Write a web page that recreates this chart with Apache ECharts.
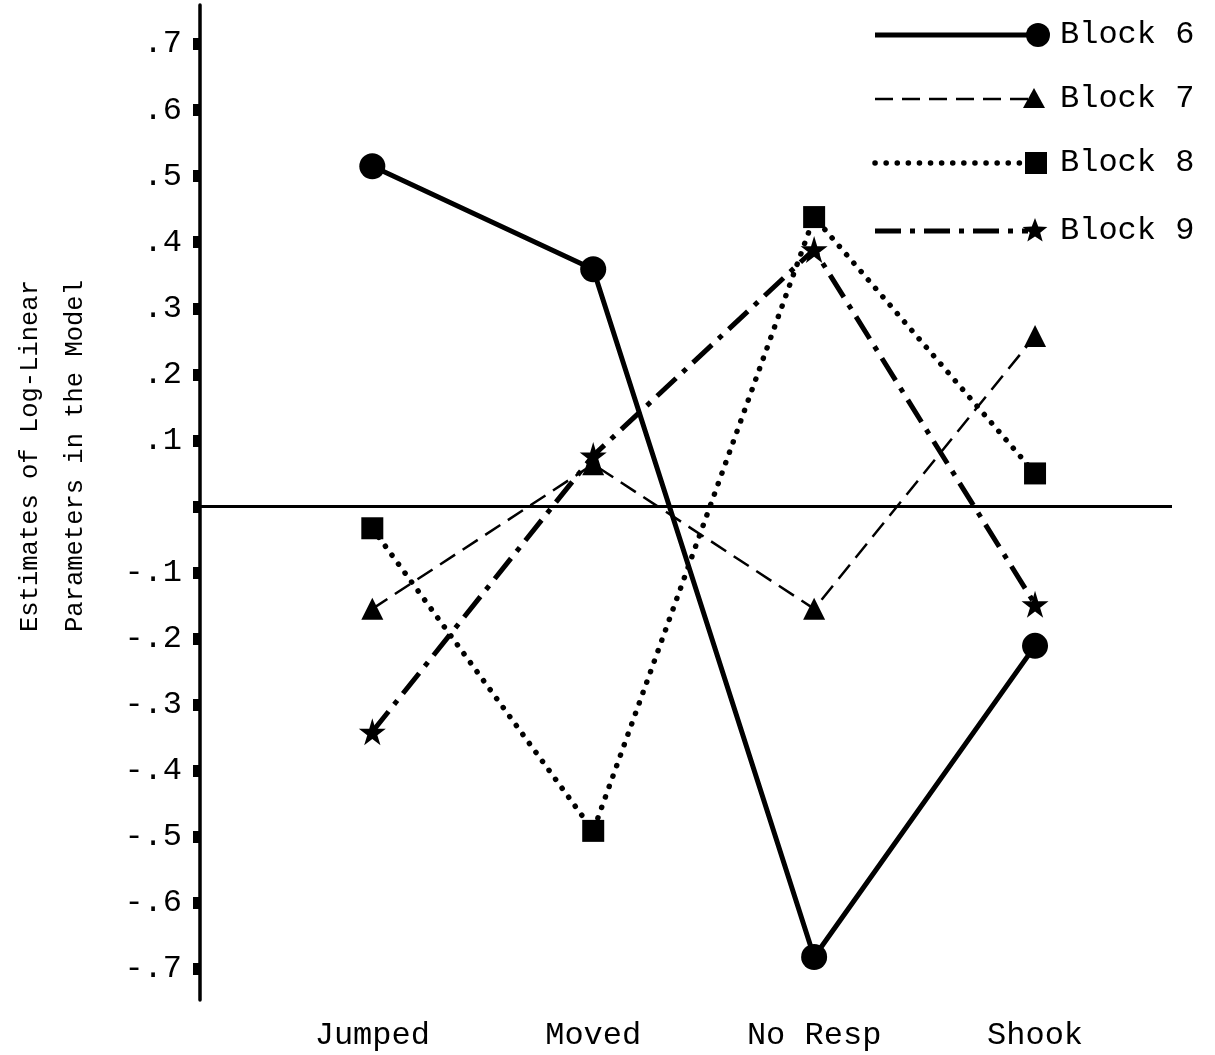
<!DOCTYPE html>
<html><head><meta charset="utf-8">
<script src="https://cdn.jsdelivr.net/npm/echarts@6/dist/echarts.min.js"></script>
<style>html,body{margin:0;padding:0;background:#fff}#c{width:1215px;height:1055px}</style>
</head><body><div id="c"></div>
<script>
const categories = ["Jumped", "Moved", "No Resp", "Shook"];
const block6 = [0.515, 0.359, -0.682, -0.211];
const block7 = [-0.155, 0.064, -0.155, 0.258];
const block8 = [-0.033, -0.491, 0.438, 0.050];
const block9 = [-0.341, 0.077, 0.389, -0.148];
const seriesNames = ["Block 6", "Block 7", "Block 8", "Block 9"];
const yTickValues = [0.7, 0.6, 0.5, 0.4, 0.3, 0.2, 0.1, 0, -0.1, -0.2, -0.3, -0.4, -0.5, -0.6, -0.7];
const yTickLabels = [".7", ".6", ".5", ".4", ".3", ".2", ".1", "", "-.1", "-.2", "-.3", "-.4", "-.5", "-.6", "-.7"];
const yTitle = ["Estimates of Log-Linear", "Parameters in the Model"];

const FONT = "Liberation Mono";
const STAR = "path://M50,0 L61,35 L98,35 L68,57 L79,91 L50,70 L21,91 L32,57 L2,35 L39,35 Z";
const xPos = categories.map((c, i) => i + 1);
const toData = arr => arr.map((v, i) => [xPos[i], v]);

const styles = [
  {symbol: 'circle', size: 26, line: {width: 5, type: 'solid'}},
  {symbol: 'triangle', size: 22, line: {width: 2.5, type: [18, 9]}},
  {symbol: 'rect', size: 22, line: {width: 5.5, type: [0.1, 11], cap: 'round'}},
  {symbol: STAR, size: 27, line: {width: 5, type: [26, 9, 5, 9]}}
];
const allData = [block6, block7, block8, block9];

const series = allData.map((d, i) => ({
  name: seriesNames[i], type: 'line', data: toData(d),
  symbol: styles[i].symbol, symbolSize: styles[i].size,
  showAllSymbol: true,
  itemStyle: {color: '#000'},
  lineStyle: Object.assign({color: '#000'}, styles[i].line),
  z: 10 - i,
  markLine: i === 0 ? {symbol: 'none', silent: true, label: {show: false},
    lineStyle: {color: '#000', width: 3, type: 'solid'}, data: [{yAxis: 0}]} : undefined
}));

function starPoints(cx, cy, r, r0) {
  const pts = [];
  for (let k = 0; k < 10; k++) {
    const a = -Math.PI / 2 + k * Math.PI / 5;
    const rr = k % 2 === 0 ? r : r0;
    pts.push([cx + rr * Math.cos(a), cy + rr * Math.sin(a)]);
  }
  return pts;
}
const legendY = [35, 99, 163, 231];
const graphic = [];
legendY.forEach((y, i) => {
  const ls = styles[i].line;
  graphic.push({type: 'line', shape: {x1: 875, y1: y, x2: 1028, y2: y},
    style: {stroke: '#000', lineWidth: ls.width, lineDash: ls.type === 'solid' ? null : ls.type, lineCap: ls.cap || 'butt'}});
  let sym;
  if (i === 0) sym = {type: 'circle', shape: {cx: 1038, cy: y, r: 12}, style: {fill: '#000'}};
  if (i === 1) sym = {type: 'polygon', shape: {points: [[1034, y - 11], [1045, y + 9], [1023, y + 9]]}, style: {fill: '#000'}};
  if (i === 2) sym = {type: 'rect', shape: {x: 1025, y: y - 11, width: 22, height: 22}, style: {fill: '#000'}};
  if (i === 3) sym = {type: 'polygon', shape: {points: starPoints(1035, y, 13, 5.5)}, style: {fill: '#000'}};
  graphic.push(sym);
  graphic.push({type: 'text', x: 1060, y: y, style: {text: seriesNames[i], font: '32px ' + FONT, fill: '#000', textVerticalAlign: 'middle'}});
});
graphic.push({type: 'text', x: 30, y: 456, rotation: Math.PI / 2,
  style: {text: yTitle[0], font: '25.5px ' + FONT, fill: '#000', textAlign: 'center', textVerticalAlign: 'middle'}});
graphic.push({type: 'text', x: 75, y: 456, rotation: Math.PI / 2,
  style: {text: yTitle[1], font: '25.5px ' + FONT, fill: '#000', textAlign: 'center', textVerticalAlign: 'middle'}});

const chart = echarts.init(document.getElementById('c'), null, {renderer: 'canvas'});
chart.setOption({
  backgroundColor: '#fff',
  animation: false,
  grid: {left: 200, right: 43, top: 5, bottom: 55, containLabel: false},
  xAxis: {
    type: 'value', min: 0.22, max: 4.62,
    axisLine: {show: false}, axisTick: {show: false}, splitLine: {show: false},
    axisLabel: {customValues: xPos, margin: 20, color: '#000', fontFamily: FONT, fontSize: 32,
      formatter: v => categories[Math.round(v) - 1] || ''}
  },
  yAxis: {
    type: 'value', min: -0.747, max: 0.759,
    axisLine: {show: true, lineStyle: {color: '#000', width: 3.5}},
    axisTick: {show: true, customValues: yTickValues, length: 7, lineStyle: {color: '#000', width: 12}},
    splitLine: {show: false},
    axisLabel: {customValues: yTickValues, margin: 18, color: '#000', fontFamily: FONT, fontSize: 32,
      formatter: v => { const idx = yTickValues.findIndex(t => Math.abs(t - v) < 1e-6); return idx >= 0 ? yTickLabels[idx] : ''; }}
  },
  series: series,
  graphic: graphic
});
</script></body></html>
